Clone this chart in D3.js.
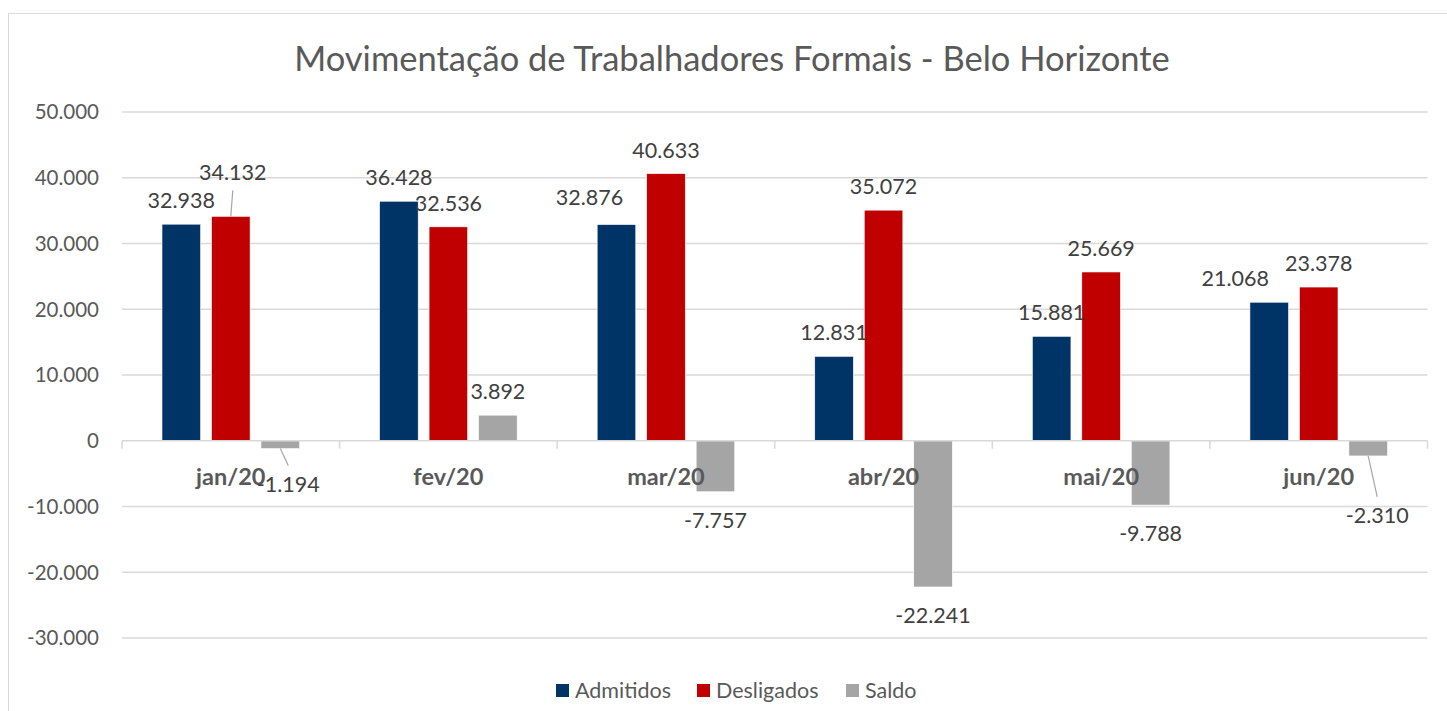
<!DOCTYPE html>
<html><head><meta charset="utf-8">
<script src="https://cdn.jsdelivr.net/npm/d3@7"></script>
<style>body{margin:0;background:#fff;} svg{display:block;}</style>
</head><body>
<svg id="c" width="1447" height="711"></svg>
<script>
const title = "Movimentação de Trabalhadores Formais - Belo Horizonte";
const categories = ["jan/20","fev/20","mar/20","abr/20","mai/20","jun/20"];
const seriesNames = ["Admitidos","Desligados","Saldo"];
const admitidos  = [32938, 36428, 32876, 12831, 15881, 21068];
const desligados = [34132, 32536, 40633, 35072, 25669, 23378];
const saldo      = [-1194, 3892, -7757, -22241, -9788, -2310];
const yTicks = [-30000,-20000,-10000,0,10000,20000,30000,40000,50000];
const colors = ["#003366","#C00000","#A5A5A5"];
// manual label nudges [series][category] = [dx, dy] (layout only)
const labelNudge = [
  [[0,0],[0,0],[-27,-4],[0,0],[0,0],[-34,0]],
  [[2,-20],[0,0],[0,0],[0,0],[0,0],[0,0]],
  [[8,7],[0,0],[0,0],[0,0],[0,0],[9,31]]
];
const values = [admitidos, desligados, saldo];

const svg = d3.select("#c");
const locale = d3.formatLocale({decimal:",", thousands:".", grouping:[3], currency:["R$",""], minus:"-"});
const fmt = locale.format(",");
const FONT = "Lato, 'Open Sans', sans-serif";

// outer border
svg.append("rect").attr("x",8.5).attr("y",13.5).attr("width",1460).attr("height",720)
  .attr("fill","#fff").attr("stroke","#D9D9D9").attr("stroke-width",1);

const L = 122, R = 1427.5;
const y = d3.scaleLinear().domain([-30000,50000]).range([638,112]);
const x0 = d3.scaleBand().domain(categories).range([L,R]).padding(0);
const x1 = d3.scaleBand().domain(seriesNames).range([40, x0.bandwidth()-40]).paddingInner(0.22);

// title
svg.append("text").attr("x",732).attr("y",71).attr("text-anchor","middle")
  .attr("font-family",FONT).attr("font-size",34.5).attr("fill","#595959").text(title);

// gridlines
svg.append("g").selectAll("line").data(yTicks.filter(d=>d!==0)).join("line")
  .attr("x1",L).attr("x2",R).attr("y1",d=>y(d)).attr("y2",d=>y(d))
  .attr("stroke","#D9D9D9").attr("stroke-width",1.5);

// y tick labels
svg.append("g").selectAll("text").data(yTicks).join("text")
  .attr("x",99).attr("y",d=>y(d)).attr("dy","0.36em").attr("text-anchor","end")
  .attr("font-family",FONT).attr("font-size",20.5).attr("fill","#595959").text(d=>fmt(d));

// bars
const g = svg.append("g");
seriesNames.forEach((s,si)=>{
  g.append("g").selectAll("rect").data(categories).join("rect")
    .attr("x",(c)=>x0(c)+x1(s))
    .attr("width",x1.bandwidth())
    .attr("y",(c,i)=>y(Math.max(0,values[si][i])))
    .attr("height",(c,i)=>Math.abs(y(values[si][i])-y(0)))
    .attr("fill",colors[si]).attr("stroke","#fff").attr("stroke-width",0.6);
});

// zero axis line + category ticks
svg.append("line").attr("x1",L).attr("x2",R).attr("y1",y(0)).attr("y2",y(0))
  .attr("stroke","#D9D9D9").attr("stroke-width",1.5);
const bounds = categories.map(c=>x0(c)).concat([R]);
svg.append("g").selectAll("line").data(bounds).join("line")
  .attr("x1",d=>d).attr("x2",d=>d).attr("y1",y(0)).attr("y2",y(0)+8)
  .attr("stroke","#D9D9D9").attr("stroke-width",1.5);

// category labels
svg.append("g").selectAll("text").data(categories).join("text")
  .attr("x",c=>x0(c)+x0.bandwidth()/2).attr("y",485).attr("text-anchor","middle")
  .attr("font-family",FONT).attr("font-weight","bold").attr("font-size",23.5)
  .attr("fill","#595959").text(c=>c);

// data labels + leader lines
const lab = svg.append("g");
seriesNames.forEach((s,si)=>{
  categories.forEach((c,i)=>{
    const v = values[si][i];
    const cx = x0(c)+x1(s)+x1.bandwidth()/2;
    const end = y(v);
    const [dx,dy] = labelNudge[si][i];
    const base = v>=0 ? end-16 : end+36;
    const lx = cx+dx, ly = base+dy;
    if (Math.abs(dy) > 5) {
      if (v>=0) {
        lab.append("line").attr("x1",cx).attr("y1",end).attr("x2",lx).attr("y2",ly+10)
          .attr("stroke","#A6A6A6").attr("stroke-width",1.2);
      } else {
        lab.append("line").attr("x1",cx).attr("y1",end).attr("x2",lx).attr("y2",ly-26)
          .attr("stroke","#A6A6A6").attr("stroke-width",1.2);
      }
    }
    lab.append("text").attr("x",lx).attr("y",ly).attr("text-anchor","middle")
      .attr("font-family",FONT).attr("font-size",21.5).attr("fill","#404040").text(fmt(v));
  });
});

// legend
const legX = [556, 697, 846];
const leg = svg.append("g");
seriesNames.forEach((s,si)=>{
  leg.append("rect").attr("x",legX[si]).attr("y",684).attr("width",13).attr("height",13).attr("fill",colors[si]);
  leg.append("text").attr("x",legX[si]+19).attr("y",698).attr("font-family",FONT)
    .attr("font-size",21.5).attr("fill","#595959").text(s);
});
</script>
</body></html>
